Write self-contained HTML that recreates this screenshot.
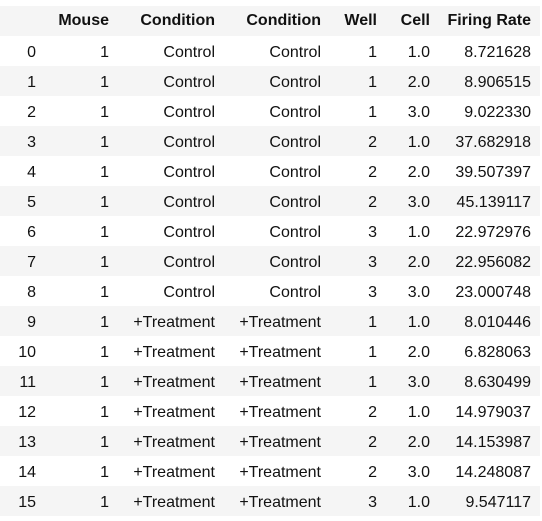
<!DOCTYPE html>
<html><head><meta charset="utf-8">
<style>
html,body{margin:0;padding:0;background:#fff;}
body{width:542px;height:521px;position:relative;overflow:hidden;font-family:"Liberation Sans",sans-serif;font-size:16px;color:#111;}
.row{position:absolute;left:0;width:540px;height:30px;}
.g{background:#f5f5f5;}
.c{position:absolute;top:1px;height:30px;line-height:31px;text-align:right;white-space:nowrap;}
.h .c{font-weight:bold;top:0;line-height:30px;}
</style></head>
<body>
<div id="t"></div>
<script>
const headers=["","Mouse","Condition","Condition","Well","Cell","Firing Rate"];
const mouse=[1,1,1,1,1,1,1,1,1,1,1,1,1,1,1,1];
const cond=["Control","Control","Control","Control","Control","Control","Control","Control","Control","+Treatment","+Treatment","+Treatment","+Treatment","+Treatment","+Treatment","+Treatment"];
const well=[1,1,1,2,2,2,3,3,3,1,1,1,2,2,2,3];
const cell=["1.0","2.0","3.0","1.0","2.0","3.0","1.0","2.0","3.0","1.0","2.0","3.0","1.0","2.0","3.0","1.0"];
const rate=["8.721628","8.906515","9.022330","37.682918","39.507397","45.139117","22.972976","22.956082","23.000748","8.010446","6.828063","8.630499","14.979037","14.153987","14.248087","9.547117"];
const rights=[36,109,215,321,377,430,531];
const names=["index","mouse","condition","condition-2","well","cell","firing-rate"];
const t=document.getElementById('t');
function mkRow(vals,y,cls,nm){
  const r=document.createElement('div');
  r.className='row '+cls;
  r.style.top=y+'px';
  
  
  vals.forEach((v,i)=>{
    const c=document.createElement('div');
    c.className='c';
    c.style.right=(540-rights[i])+'px';
    c.textContent=v;
    
    
    r.appendChild(c);
  });
  t.appendChild(r);
}
mkRow(headers,6,'g h','header-row');
for(let i=0;i<rate.length;i++){
  mkRow([i,mouse[i],cond[i],cond[i],well[i],cell[i],rate[i]],36+i*30,i%2?'g':'','data-row-'+i);
}
</script>
</body></html>
